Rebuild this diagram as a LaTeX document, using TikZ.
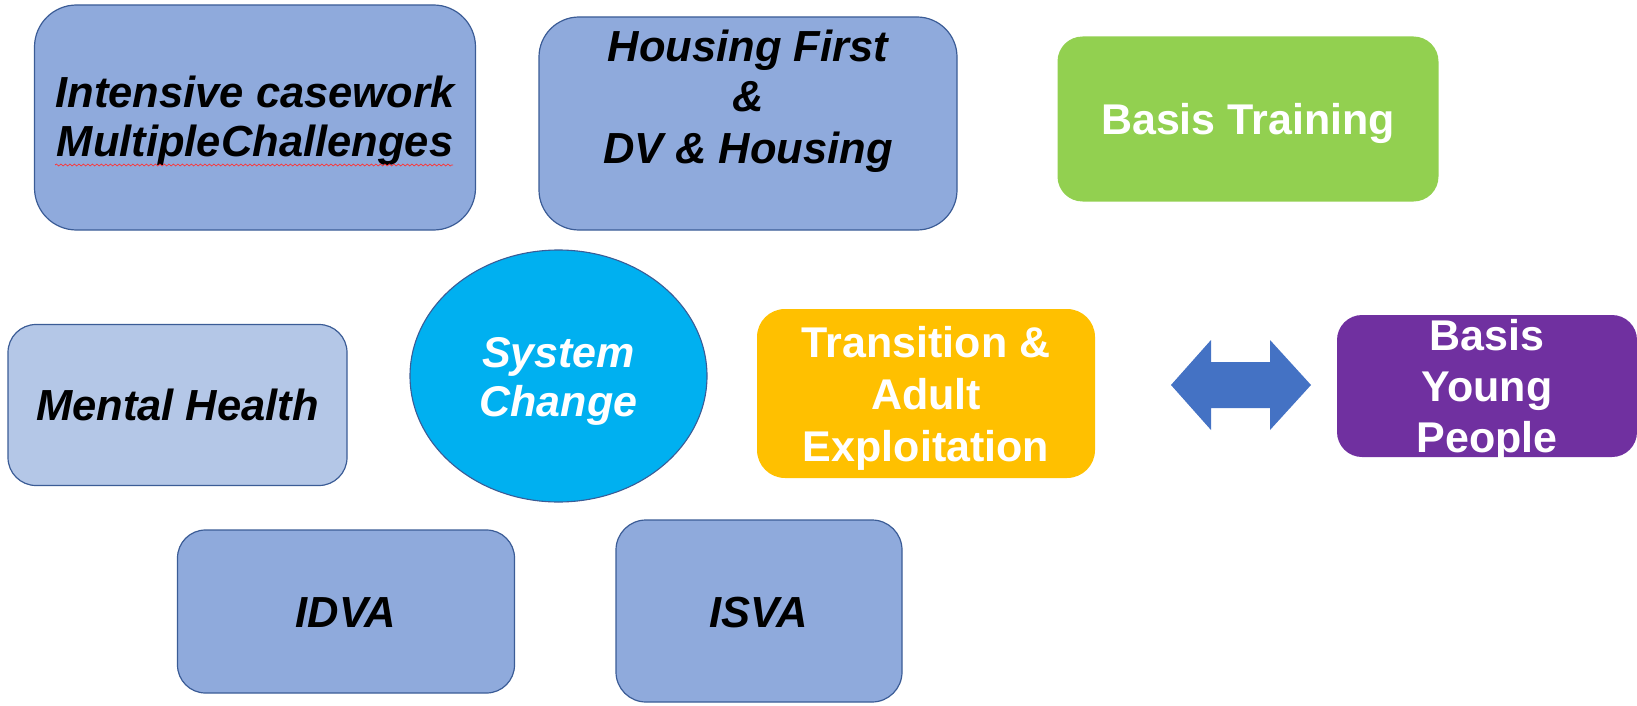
\documentclass[tikz,border=0pt]{standalone}
\usepackage{fontspec}
\setmainfont{Liberation Sans}
\usetikzlibrary{shapes.geometric,decorations.pathmorphing}
\definecolor{boxblue}{HTML}{8FAADC}
\definecolor{boxlight}{HTML}{B4C7E7}
\definecolor{edgeblue}{HTML}{3B5C96}
\definecolor{grn}{HTML}{92D050}
\definecolor{cyanfill}{HTML}{00B0F0}
\definecolor{orng}{HTML}{FFC000}
\definecolor{purp}{HTML}{7030A0}
\definecolor{arrowblue}{HTML}{4472C4}
\tikzset{
  x=1pt, y=-1pt,
  bluebox/.style={draw=edgeblue, line width=1.2pt, fill=boxblue, inner sep=0pt},
  lightbox/.style={draw=edgeblue, line width=1.2pt, fill=boxlight, inner sep=0pt},
  solidbox/.style={inner sep=0pt, draw=none},
  darktxt/.style={anchor=base, inner sep=0pt, font=\fontsize{43.5}{50}\selectfont\bfseries\itshape, text=black},
  whitetxt/.style={anchor=base, inner sep=0pt, font=\fontsize{43}{50}\selectfont\bfseries, text=white},
  whiteit/.style={anchor=base, inner sep=0pt, font=\fontsize{43}{50}\selectfont\bfseries\itshape, text=white},
}
\begin{document}
\begin{tikzpicture}
\useasboundingbox (0,0) rectangle (1637,706);
% boxes
\node[bluebox, rounded corners=42pt, minimum width=441pt, minimum height=225pt] (cw) at (255,117.5) {};
\node[bluebox, rounded corners=40pt, minimum width=418pt, minimum height=213pt] (hf) at (748,123.5) {};
\node[solidbox, fill=grn, rounded corners=25pt, minimum width=381pt, minimum height=165pt] (bt) at (1248,119) {};
\node[lightbox, rounded corners=28pt, minimum width=339pt, minimum height=161pt] (mh) at (177.5,405) {};
\node[ellipse, draw=edgeblue, line width=1.1pt, fill=cyanfill, inner sep=0pt, minimum width=297pt, minimum height=252pt] (sc) at (558.5,376) {};
\node[solidbox, fill=orng, rounded corners=28pt, minimum width=338pt, minimum height=169pt] (tr) at (926,393.5) {};
\node[solidbox, fill=purp, rounded corners=25pt, minimum width=300pt, minimum height=142pt] (yp) at (1487,386) {};
\node[bluebox, rounded corners=28pt, minimum width=337pt, minimum height=163pt] (idva) at (346,611.5) {};
\node[bluebox, rounded corners=30pt, minimum width=286pt, minimum height=182pt] (isva) at (759,611) {};
% double arrow
\fill[arrowblue] (1171,385) -- (1211,340) -- (1211,362) -- (1270,362) -- (1270,340) -- (1311,385)
  -- (1270,430) -- (1270,408) -- (1211,408) -- (1211,430) -- cycle;
% texts
\node[darktxt] (cw1) at (255,107) {Intensive casework};
\node[darktxt] (cw2) at (255,157) {MultipleChallenges};
\draw[red!80, line width=0.7pt, decorate, decoration={snake, amplitude=1pt, segment length=4.5pt}] (55,165) -- (453,165);
\node[darktxt] (hf1) at (748,62) {Housing First};
\node[darktxt] (hf2) at (748,112) {\&};
\node[darktxt] (hf3) at (748,163) {DV \& Housing};
\node[whitetxt] (bt1) at (1248,135) {Basis Training};
\node[darktxt] (mh1) at (177.5,420) {Mental Health};
\node[whiteit] (sc1) at (558.5,367) {System};
\node[whiteit] (sc2) at (558.5,416) {Change};
\node[whitetxt] (tr1) at (926,357) {Transition \&};
\node[whitetxt] (tr2) at (926,409) {Adult};
\node[whitetxt] (tr3) at (926,461) {Exploitation};
\node[whitetxt] (yp1) at (1487,350) {Basis};
\node[whitetxt] (yp2) at (1487,401) {Young};
\node[whitetxt] (yp3) at (1487,452) {People};
\node[darktxt] (idva1) at (346,627) {IDVA};
\node[darktxt] (isva1) at (759,627) {ISVA};
\end{tikzpicture}
\end{document}
